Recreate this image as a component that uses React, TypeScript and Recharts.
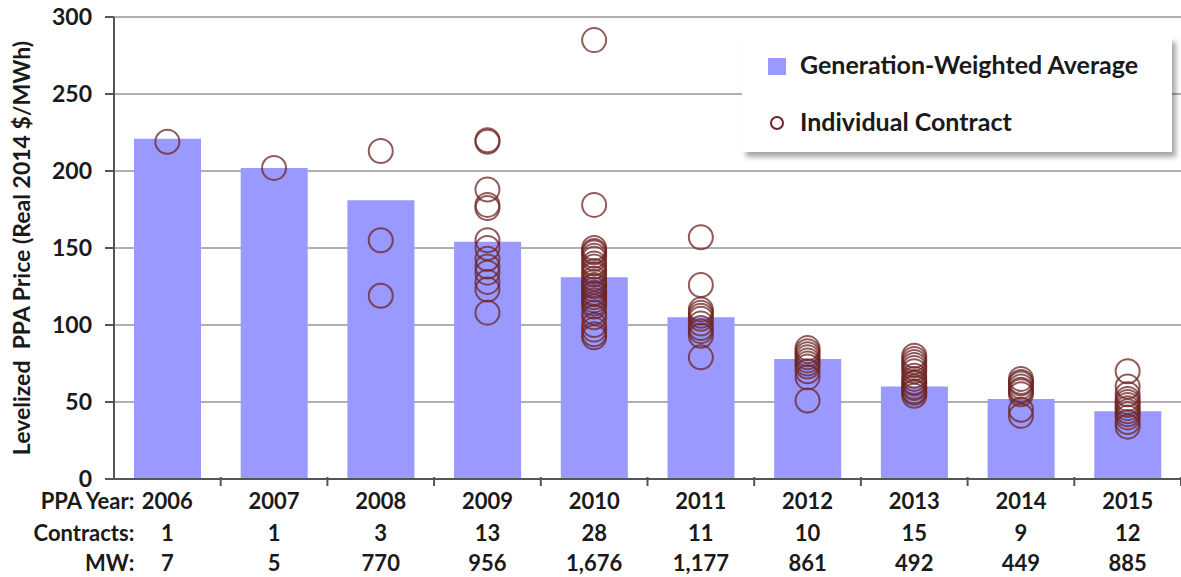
import { Bar, ComposedChart, CartesianGrid, Scatter, XAxis, YAxis } from "recharts";

const years = ["2006", "2007", "2008", "2009", "2010", "2011", "2012", "2013", "2014", "2015"];
const weightedAvg = [221, 202, 181, 154, 131, 105, 78, 60, 52, 44];
const contracts = ["1", "1", "3", "13", "28", "11", "10", "15", "9", "12"];
const megawatts = ["7", "5", "770", "956", "1,676", "1,177", "861", "492", "449", "885"];
const yTicks = [0, 50, 100, 150, 200, 250, 300];

const contractPrices: number[][] = [
  [219],
  [202],
  [213, 155, 119],
  [220, 219, 188, 178, 176, 155, 150, 143, 138, 134, 128, 123, 108],
  [
    285, 178, 150, 148, 147, 145, 143, 140, 138, 135, 133, 130, 128, 126,
    125, 123, 121, 120, 118, 116, 114, 112, 108, 105, 100, 97, 94, 92,
  ],
  [157, 126, 110, 108, 106, 104, 101, 98, 96, 93, 79],
  [85, 83, 81, 79, 77, 75, 73, 70, 66, 51],
  [80, 78, 76, 74, 72, 70, 67, 65, 63, 62, 60, 59, 57, 56, 54],
  [65, 63, 62, 60, 58, 57, 55, 45, 41],
  [70, 60, 55, 52, 50, 48, 46, 44, 42, 40, 37, 34],
];

const barData = years.map((year, i) => ({ year, avg: weightedAvg[i] }));
const pointData = years.flatMap((year, i) =>
  contractPrices[i].map((price) => ({ year, price }))
);

const FONT = "Lato, 'Open Sans', sans-serif";
const INK = "#1a1a1a";
const BAR = "#9999ff";
const RING = "#6e2424";

const Ring = (props: any) => (
  <circle
    cx={props.cx}
    cy={props.cy}
    r={12}
    fill="none"
    stroke={RING}
    strokeWidth={2}
    strokeOpacity={0.75}
  />
);

const BottomTick = (props: any) => {
  const { x, y, index, payload } = props;
  const band = 1067 / years.length;
  const textProps = {
    fontFamily: FONT,
    fontWeight: 700,
    fontSize: 22,
    fill: INK,
    textAnchor: "middle" as const,
  };
  return (
    <g>
      <line x1={x + band / 2} y1={y - 10} x2={x + band / 2} y2={y - 1} stroke="#555" strokeWidth={2} />
      {index === 0 && (
        <g>
          <text {...textProps} textAnchor="end" x={x - 33} y={y + 22}>PPA Year:</text>
          <text {...textProps} textAnchor="end" x={x - 33} y={y + 54}>Contracts:</text>
          <text {...textProps} textAnchor="end" x={x - 33} y={y + 84}>MW:</text>
        </g>
      )}
      <text {...textProps} x={x} y={y + 22}>{payload.value}</text>
      <text {...textProps} x={x} y={y + 54}>{contracts[index]}</text>
      <text {...textProps} x={x} y={y + 84}>{megawatts[index]}</text>
    </g>
  );
};

const LegendBox = () => (
  <div
    style={{
      position: "absolute",
      left: 742,
      top: 37,
      width: 430,
      height: 115,
      background: "#fff",
      boxShadow: "4px 5px 5px rgba(0,0,0,0.35)",
      fontFamily: FONT,
      fontWeight: 700,
      fontSize: 25,
      color: INK,
    }}
  >
    <div style={{ position: "absolute", left: 26, top: 21, width: 18, height: 17, background: BAR }} />
    <div style={{ position: "absolute", left: 58, top: 12 }}>Generation-Weighted Average</div>
    <svg style={{ position: "absolute", left: 27, top: 78 }} width={16} height={16}>
      <circle cx={8} cy={8} r={6} fill="none" stroke={RING} strokeWidth={2} />
    </svg>
    <div style={{ position: "absolute", left: 58, top: 69 }}>Individual Contract</div>
  </div>
);

export default function App() {
  return (
    <div style={{ position: "absolute", left: 0, top: 0, width: 1181, height: 577, background: "#fff" }}>
      <ComposedChart
        width={1181}
        height={577}
        data={barData}
        margin={{ top: 17, right: 0, bottom: 0, left: 0 }}
      >
        <CartesianGrid vertical={false} stroke="#b0b0b0" strokeWidth={2} />
        <XAxis
          dataKey="year"
          allowDuplicatedCategory={false}
          height={98}
          tickLine={false}
          axisLine={{ stroke: "#555", strokeWidth: 2 }}
          tick={<BottomTick />}
          interval={0}
        />
        <YAxis
          type="number"
          domain={[0, 300]}
          ticks={yTicks}
          width={114}
          tickSize={9}
          tickMargin={13}
          tickLine={{ stroke: "#555", strokeWidth: 2 }}
          axisLine={{ stroke: "#555", strokeWidth: 2 }}
          tick={{ fontFamily: FONT, fontWeight: 700, fontSize: 23, fill: INK }}
          label={(p: any) => {
            const vb = p.viewBox;
            const cy = vb.y + vb.height / 2;
            return (
              <text
                x={21}
                y={cy}
                transform={`rotate(-90, 21, ${cy})`}
                textAnchor="middle"
                dominantBaseline="central"
                fontFamily={FONT}
                fontWeight={700}
                fontSize={23}
                fill={INK}
                style={{ whiteSpace: "pre" }}
              >
                Levelized  PPA Price (Real 2014 $/MWh)
              </text>
            );
          }}
        />
        <Bar dataKey="avg" fill={BAR} barSize={67} isAnimationActive={false} />
        <Scatter
          data={pointData}
          dataKey="price"
          shape={<Ring />}
          isAnimationActive={false}
        />
      </ComposedChart>
      <LegendBox />
    </div>
  );
}
